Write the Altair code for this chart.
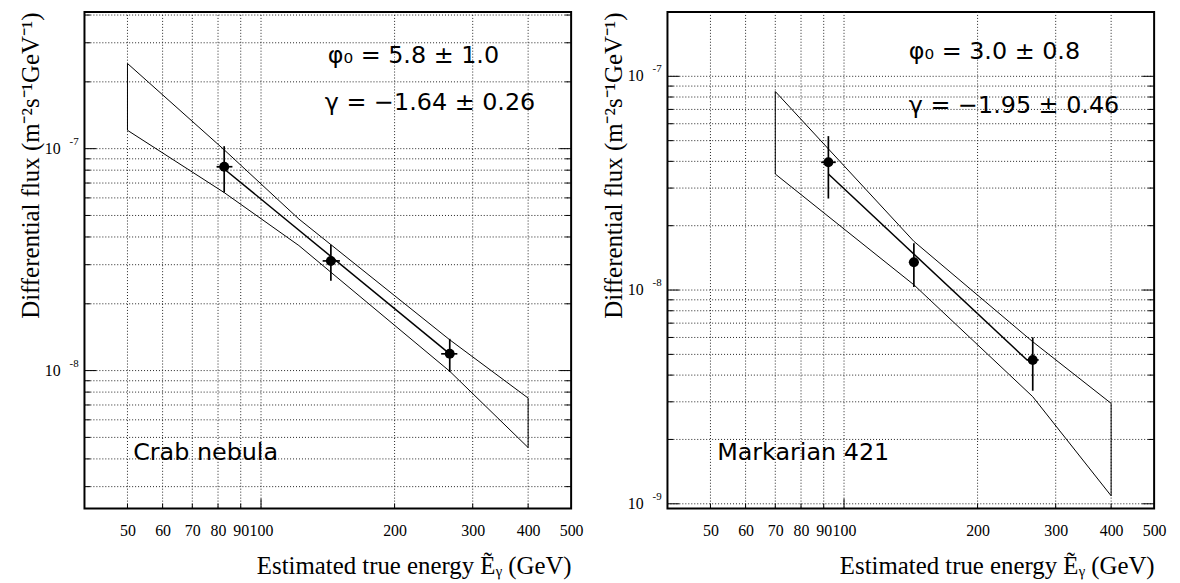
import altair as alt
import pandas as pd

# ---------------- shared axis values ----------------
x_tick_labels = [50, 60, 70, 80, 90, 100, 200, 300, 400, 500]
x_grid = [50, 60, 70, 80, 90, 100, 200, 300, 400]
x_minor_ticks = [50, 60, 70, 80, 90, 200, 300, 400]
x_major_ticks = [100]

# ---------------- Crab nebula ----------------
crab_E = [82.6, 143.7, 266.3]
crab_E_lo = [79.4, 137.7, 254.7]
crab_E_hi = [86.2, 150.6, 277.0]
crab_flux = [8.29e-8, 3.12e-8, 1.19e-8]
crab_flux_lo = [6.34e-8, 2.54e-8, 0.986e-8]
crab_flux_hi = [1.026e-7, 3.69e-8, 1.39e-8]
crab_band_E = [50, 82.6, 121.7, 266.3, 400]
crab_band_hi = [2.42e-7, 9.88e-8, 4.82e-8, 1.376e-8, 7.52e-9]
crab_band_lo = [1.21e-7, 6.34e-8, 3.66e-8, 0.993e-8, 4.50e-9]
crab_fit_E = [82.6, 266.3]
crab_fit = [8.1e-8, 1.19e-8]
crab_y_domain = [2.39e-9, 4.13e-7]
crab_y_grid = [3e-9, 4e-9, 5e-9, 6e-9, 7e-9, 8e-9, 9e-9, 1e-8, 2e-8, 3e-8, 4e-8, 5e-8,
               6e-8, 7e-8, 8e-8, 9e-8, 1e-7, 2e-7, 3e-7, 4e-7]
crab_y_major = [1e-8, 1e-7]
crab_y_exp = ["-8", "-7"]
crab_phi = "φ₀ = 5.8 ± 1.0"
crab_gamma = "γ = −1.64 ± 0.26"
crab_name = "Crab nebula"

# ---------------- Markarian 421 ----------------
mrk_E = [92.2, 143.7, 266.3]
mrk_E_lo = [88.8, 140.0, 258.3]
mrk_E_hi = [95.8, 147.4, 274.6]
mrk_flux = [3.96e-8, 1.348e-8, 4.71e-9]
mrk_flux_lo = [2.68e-8, 1.032e-8, 3.38e-9]
mrk_flux_hi = [5.25e-8, 1.656e-8, 6.01e-9]
mrk_band_E = [70, 143.7, 266.3, 400]
mrk_band_hi = [8.49e-8, 1.69e-8, 5.73e-9, 2.95e-9]
mrk_band_lo = [3.49e-8, 1.058e-8, 3.17e-9, 1.09e-9]
mrk_fit_E = [92.2, 259.0]
mrk_fit = [3.49e-8, 4.69e-9]
mrk_y_domain = [9.5e-10, 2.0e-7]
mrk_y_grid = [1e-9, 2e-9, 3e-9, 4e-9, 5e-9, 6e-9, 7e-9, 8e-9, 9e-9, 1e-8, 2e-8, 3e-8,
              4e-8, 5e-8, 6e-8, 7e-8, 8e-8, 9e-8, 1e-7]
mrk_y_major = [1e-9, 1e-8, 1e-7]
mrk_y_exp = ["-9", "-8", "-7"]
mrk_phi = "φ₀ = 3.0 ± 0.8"
mrk_gamma = "γ = −1.95 ± 0.46"
mrk_name = "Markarian 421"

SERIF = "Liberation Serif"
SANS = "DejaVu Sans"
W, H = 490, 500


def panel(E, Elo, Ehi, F, Flo, Fhi, bandE, bandHi, bandLo, fitE, fit,
          ydom, ygrid, ymajor, yexp, phi, gamma, name, ann):
    xscale = alt.Scale(type="log", domain=[40, 500], nice=False)
    yscale = alt.Scale(type="log", domain=ydom, nice=False)
    xaxis = alt.Axis(values=x_tick_labels, grid=False, ticks=False, domain=False,
                     labelFont=SERIF, labelFontSize=16, labelColor="black",
                     labelPadding=14, labelOverlap=False, labelFlush=False,
                     labelExpr="datum.value",
                     title="Estimated true energy Ẽᵧ (GeV)", titleFont=SERIF,
                     titleFontSize=25, titleFontWeight="normal", titleColor="black",
                     titleAnchor="end", titlePadding=15)
    yaxis = alt.Axis(values=ygrid, grid=False, ticks=False, domain=False, labels=False,
                     minExtent=40, maxExtent=40,
                     title="Differential flux (m⁻²s⁻¹GeV⁻¹)", titleFont=SERIF,
                     titleFontSize=25, titleFontWeight="normal", titleColor="black",
                     titleAnchor="end", titlePadding=1)

    def X(f):
        return alt.X(f, type="quantitative", scale=xscale, axis=xaxis)

    def Y(f):
        return alt.Y(f, type="quantitative", scale=yscale, axis=yaxis)

    grid_style = dict(color="#222222", strokeDash=[1, 2], strokeWidth=1, opacity=1)
    vgrid = alt.Chart(pd.DataFrame({"g": x_grid})).mark_rule(**grid_style).encode(
        x=X("g"), y=alt.value(0), y2=alt.value(H))
    hgrid = alt.Chart(pd.DataFrame({"g": ygrid})).mark_rule(**grid_style).encode(
        y=Y("g"), x=alt.value(0), x2=alt.value(W))

    # inside ticks
    ymin = [v for v in ygrid if v not in ymajor]
    tick_style = dict(color="black", strokeWidth=1)
    ytk_min_l = alt.Chart(pd.DataFrame({"t": ymin})).mark_rule(**tick_style).encode(
        y=Y("t"), x=alt.value(0), x2=alt.value(6))
    ytk_maj_l = alt.Chart(pd.DataFrame({"t": ymajor})).mark_rule(**tick_style).encode(
        y=Y("t"), x=alt.value(0), x2=alt.value(12))
    ytk_min_r = alt.Chart(pd.DataFrame({"t": ymin})).mark_rule(**tick_style).encode(
        y=Y("t"), x=alt.value(W - 6), x2=alt.value(W))
    ytk_maj_r = alt.Chart(pd.DataFrame({"t": ymajor})).mark_rule(**tick_style).encode(
        y=Y("t"), x=alt.value(W - 12), x2=alt.value(W))
    xtk_min = alt.Chart(pd.DataFrame({"t": x_minor_ticks})).mark_rule(**tick_style).encode(
        x=X("t"), y=alt.value(H - 5), y2=alt.value(H))
    xtk_maj = alt.Chart(pd.DataFrame({"t": x_major_ticks})).mark_rule(**tick_style).encode(
        x=X("t"), y=alt.value(H - 10), y2=alt.value(H))

    # y labels 10^n
    lab_df = pd.DataFrame({"v": ymajor, "e": yexp})
    ylab10 = alt.Chart(lab_df).mark_text(
        text="10", font=SERIF, fontSize=16, align="right", baseline="middle", color="black"
    ).encode(y=Y("v"), x=alt.value(-24))
    ylabexp = alt.Chart(lab_df).mark_text(
        font=SERIF, fontSize=11, align="left", baseline="middle", color="black", dy=-7
    ).encode(y=Y("v"), x=alt.value(-15), text="e:N")

    # butterfly band
    n = len(bandE)
    bx = bandE + bandE[::-1] + [bandE[0]]
    by = bandHi + bandLo[::-1] + [bandHi[0]]
    band = alt.Chart(pd.DataFrame({"E": bx, "F": by, "i": list(range(2 * n + 1))})).mark_line(
        color="black", strokeWidth=1
    ).encode(x=X("E"), y=Y("F"), order="i:Q")

    fitl = alt.Chart(pd.DataFrame({"E": fitE, "F": fit})).mark_line(
        color="black", strokeWidth=1.5
    ).encode(x=X("E"), y=Y("F"))

    pts_df = pd.DataFrame({"E": E, "Elo": Elo, "Ehi": Ehi, "F": F, "Flo": Flo, "Fhi": Fhi})
    ebar_v = alt.Chart(pts_df).mark_rule(color="black", strokeWidth=1.7).encode(
        x=X("E"), y=Y("Flo"), y2="Fhi")
    ebar_h = alt.Chart(pts_df).mark_rule(color="black", strokeWidth=1.7).encode(
        x=X("Elo"), x2="Ehi", y=Y("F"))
    pts = alt.Chart(pts_df).mark_point(
        filled=True, color="black", size=100, opacity=1, shape="circle"
    ).encode(x=X("E"), y=Y("F"))

    one = pd.DataFrame({"a": [0]})
    txt = dict(font=SANS, fontSize=24, align="left", baseline="middle", color="black")
    t1 = alt.Chart(one).mark_text(text=phi, **txt).encode(
        x=alt.value(ann[0][0]), y=alt.value(ann[0][1]))
    t2 = alt.Chart(one).mark_text(text=gamma, **txt).encode(
        x=alt.value(ann[1][0]), y=alt.value(ann[1][1]))
    t3 = alt.Chart(one).mark_text(text=name, **txt).encode(
        x=alt.value(ann[2][0]), y=alt.value(ann[2][1]))

    return alt.layer(
        vgrid, hgrid, ytk_min_l, ytk_maj_l, ytk_min_r, ytk_maj_r, xtk_min, xtk_maj,
        ylab10, ylabexp, band, fitl, ebar_v, ebar_h, pts, t1, t2, t3
    ).properties(width=W, height=H)


left = panel(crab_E, crab_E_lo, crab_E_hi, crab_flux, crab_flux_lo, crab_flux_hi,
             crab_band_E, crab_band_hi, crab_band_lo, crab_fit_E, crab_fit,
             crab_y_domain, crab_y_grid, crab_y_major, crab_y_exp,
             crab_phi, crab_gamma, crab_name,
             [(245, 44), (242, 92), (49, 444)])
right = panel(mrk_E, mrk_E_lo, mrk_E_hi, mrk_flux, mrk_flux_lo, mrk_flux_hi,
              mrk_band_E, mrk_band_hi, mrk_band_lo, mrk_fit_E, mrk_fit,
              mrk_y_domain, mrk_y_grid, mrk_y_major, mrk_y_exp,
              mrk_phi, mrk_gamma, mrk_name,
              [(243, 40), (243, 95), (50, 444)])

chart = alt.hconcat(left, right, spacing=97, bounds="flush").properties(
    padding={"left": 9, "top": 0, "right": 5, "bottom": 5},
    background="white",
).configure_view(stroke="black", strokeWidth=2)

chart.save("out.html", embed_options={"renderer": "svg", "actions": False})
